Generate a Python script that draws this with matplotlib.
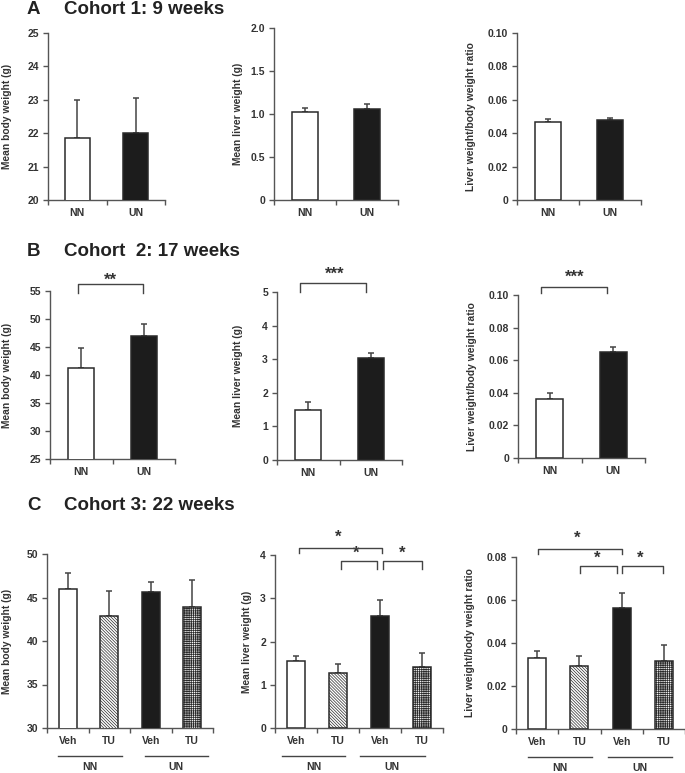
import numpy as np
import matplotlib
matplotlib.use("Agg")
import matplotlib.pyplot as plt
from matplotlib.transforms import offset_copy

plt.rcParams['font.family'] = ['Liberation Sans', 'DejaVu Sans']
plt.rcParams['font.weight'] = 'bold'
plt.rcParams['hatch.linewidth'] = 0.5
plt.rcParams['hatch.color'] = '#333333'

# ---------------------------------------------------------------
# Data
# ---------------------------------------------------------------
groups = ['NN', 'UN']
treat = ['Veh', 'TU', 'Veh', 'TU']

# Cohort 1: 9 weeks
a_body = [21.87, 22.0]
a_body_err = [1.13, 1.04]
a_liver = [1.02, 1.06]
a_liver_err = [0.05, 0.06]
a_ratio = [0.0466, 0.0480]
a_ratio_err = [0.0018, 0.0010]

# Cohort 2: 17 weeks
b_body = [41.3, 47.0]
b_body_err = [3.5, 2.1]
b_liver = [1.50, 3.03]
b_liver_err = [0.22, 0.16]
b_ratio = [0.0365, 0.0649]
b_ratio_err = [0.0032, 0.0029]

# Cohort 3: 22 weeks
c_body = [46.0, 42.9, 45.65, 43.9]
c_body_err = [1.85, 2.8, 1.15, 3.1]
c_liver = [1.54, 1.27, 2.60, 1.41]
c_liver_err = [0.12, 0.21, 0.35, 0.33]
c_ratio = [0.0332, 0.0295, 0.0564, 0.0316]
c_ratio_err = [0.0031, 0.0043, 0.0069, 0.0073]

W, H = 685, 773
INK = '#333333'
AXC = '#555555'

fig = plt.figure(figsize=(W / 100, H / 100), dpi=100)


def px_axes(l, t, r, b):
    return fig.add_axes([l / W, 1 - b / H, (r - l) / W, (b - t) / H])


def panel(box, vals, errs, ylim, yticks, yticklabels, cats, fills, hatches,
          ylabel, ylab_x, width):
    ax = px_axes(*box)
    n = len(vals)
    x = np.arange(n)
    bars = ax.bar(x, vals, width=width, color=fills, edgecolor='#2a2a2a',
                  linewidth=1.1, zorder=3)
    for b, h in zip(bars, hatches):
        if h:
            b.set_hatch(h)
    ax.errorbar(x, vals, yerr=[np.zeros(n), errs], fmt='none', ecolor='#444444',
                elinewidth=1.1, capsize=2.5, capthick=1.1, zorder=2)
    ax.set_xlim(-0.5, n - 0.5)
    ax.set_ylim(*ylim)
    ax.set_yticks(yticks, yticklabels)
    ax.set_xticks(np.arange(n + 1) - 0.5, [''] * (n + 1))
    ax.set_xticks(x, cats, minor=True)
    ax.tick_params(axis='y', length=3.5, width=1, color=AXC, labelsize=7.5,
                   labelcolor=INK, pad=3)
    ax.tick_params(axis='x', which='major', length=3.5, width=1, color=AXC,
                   direction='out')
    ax.tick_params(axis='x', which='minor', length=0, labelsize=7.5,
                   labelcolor=INK, pad=6)
    for s in ['top', 'right']:
        ax.spines[s].set_visible(False)
    for s in ['left', 'bottom']:
        ax.spines[s].set_color(AXC)
        ax.spines[s].set_linewidth(1)
    l, t, r, b = box
    fig.text(ylab_x / W, 1 - (t + b) / 2 / H, ylabel, rotation=90, ha='center',
             va='center', fontsize=7.4, color=INK)
    return ax


def bracket(ax, x0, x1, ytop, ydrop, star, sx, sy):
    ax.plot([x0, x0, x1, x1], [ydrop, ytop, ytop, ydrop], color='#444444',
            lw=1, clip_on=False, zorder=4)
    ax.text(sx, sy, star, ha='center', va='center', fontsize=12, color=INK,
            clip_on=False)


def groups_below(ax, spans):
    tl = offset_copy(ax.get_xaxis_transform(), fig=fig, y=-28, units='dots')
    tt = offset_copy(ax.get_xaxis_transform(), fig=fig, y=-39, units='dots')
    for (x0, x1), g in zip(spans, groups):
        ax.plot([x0, x1], [0, 0], transform=tl, color='#444444', lw=1,
                clip_on=False)
        ax.text((x0 + x1) / 2, 0, g, transform=tt, ha='center', va='center',
                fontsize=7.5, color=INK)


def title(y, letter, text):
    fig.text(27 / W, 1 - y / H, letter, fontsize=13.5, color='#222222',
             va='center', ha='left')
    fig.text(64 / W, 1 - y / H, text, fontsize=13.5, color='#222222',
             va='center', ha='left')


two_fill = ['white', '#1c1c1c']
two_hatch = [None, None]
four_fill = ['white', 'white', '#1c1c1c', 'white']
four_hatch = [None, '\\' * 11, None, '+' * 9]

# ---------------- Row A ----------------
title(9, 'A', 'Cohort 1: 9 weeks')
panel((48, 33, 165, 200), a_body, a_body_err, (20, 25), [20, 21, 22, 23, 24, 25],
      ['20', '21', '22', '23', '24', '25'], groups, two_fill, two_hatch,
      'Mean body weight (g)', 7, 0.42)
panel((274, 28, 398, 200), a_liver, a_liver_err, (0, 2.0), [0, 0.5, 1.0, 1.5, 2.0],
      ['0', '0.5', '1.0', '1.5', '2.0'], groups, two_fill, two_hatch,
      'Mean liver weight (g)', 238, 0.42)
panel((517, 33, 641, 200), a_ratio, a_ratio_err, (0, 0.10),
      [0, 0.02, 0.04, 0.06, 0.08, 0.10],
      ['0', '0.02', '0.04', '0.06', '0.08', '0.10'], groups, two_fill, two_hatch,
      'Liver weight/body weight ratio', 471, 0.42)

# ---------------- Row B ----------------
title(252, 'B', 'Cohort  2: 17 weeks')
ax = panel((50, 291, 175, 459), b_body, b_body_err, (25, 55),
           [25, 30, 35, 40, 45, 50, 55], ['25', '30', '35', '40', '45', '50', '55'],
           groups, two_fill, two_hatch, 'Mean body weight (g)', 7, 0.42)
bracket(ax, -0.06, 0.99, 56.25, 54.6, '**', 0.46, 57.0)
ax = panel((277, 292, 402, 460), b_liver, b_liver_err, (0, 5),
           [0, 1, 2, 3, 4, 5], ['0', '1', '2', '3', '4', '5'],
           groups, two_fill, two_hatch, 'Mean liver weight (g)', 238, 0.42)
bracket(ax, -0.14, 0.93, 5.27, 5.0, '***', 0.42, 5.53)
ax = panel((518, 295, 645, 458), b_ratio, b_ratio_err, (0, 0.10),
           [0, 0.02, 0.04, 0.06, 0.08, 0.10],
           ['0', '0.02', '0.04', '0.06', '0.08', '0.10'],
           groups, two_fill, two_hatch, 'Liver weight/body weight ratio', 472, 0.42)
bracket(ax, -0.14, 0.9, 0.1049, 0.1012, '***', 0.39, 0.1110)

# ---------------- Row C ----------------
title(506, 'C', 'Cohort 3: 22 weeks')
ax = panel((47, 554, 213, 728), c_body, c_body_err, (30, 50),
           [30, 35, 40, 45, 50], ['30', '35', '40', '45', '50'],
           treat, four_fill, four_hatch, 'Mean body weight (g)', 7, 0.43)
groups_below(ax, [(-0.24, 1.3), (1.86, 3.37)])

ax = panel((275, 555, 443, 728), c_liver, c_liver_err, (0, 4),
           [0, 1, 2, 3, 4], ['0', '1', '2', '3', '4'],
           treat, four_fill, four_hatch, 'Mean liver weight (g)', 247, 0.43)
bracket(ax, 0.07, 2.05, 4.17, 4.04, '*', 1.0, 4.40)
bracket(ax, 1.07, 1.93, 3.87, 3.68, '*', 1.43, 4.03)
bracket(ax, 2.07, 3.0, 3.87, 3.68, '*', 2.52, 4.03)
groups_below(ax, [(-0.33, 1.17), (1.52, 3.07)])

ax = panel((516, 557, 685, 729), c_ratio, c_ratio_err, (0, 0.08),
           [0, 0.02, 0.04, 0.06, 0.08], ['0', '0.02', '0.04', '0.06', '0.08'],
           treat, four_fill, four_hatch, 'Liver weight/body weight ratio', 470, 0.43)
bracket(ax, 0.02, 2.0, 0.0836, 0.0812, '*', 0.95, 0.0888)
bracket(ax, 1.02, 1.9, 0.0757, 0.0727, '*', 1.41, 0.0793)
bracket(ax, 2.0, 2.98, 0.0757, 0.0727, '*', 2.45, 0.0793)
groups_below(ax, [(-0.21, 1.31), (1.67, 3.19)])

fig.savefig('out.png', dpi=100)
